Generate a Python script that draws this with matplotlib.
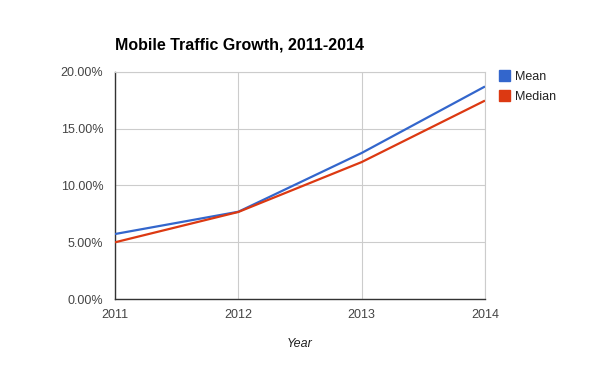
import matplotlib
matplotlib.use("Agg")
import matplotlib.pyplot as plt
from matplotlib.patches import Patch
from matplotlib.ticker import FuncFormatter

years = [2011, 2012, 2013, 2014]
mean_vals = [5.72, 7.68, 12.85, 18.7]
median_vals = [4.99, 7.66, 12.05, 17.46]
series_names = ["Mean", "Median"]
colors = ["#3366cc", "#dc3912"]
y_ticks = [0, 5, 10, 15, 20]

plt.rcParams['font.family'] = ['Liberation Sans', 'DejaVu Sans']

fig = plt.figure(figsize=(6, 3.71), dpi=100)
ax = fig.add_axes([0.1917, 0.194, 0.6166, 0.6127])

ax.plot(years, mean_vals, color=colors[0], linewidth=1.6, solid_capstyle='butt', zorder=3)
ax.plot(years, median_vals, color=colors[1], linewidth=1.6, solid_capstyle='butt', zorder=3)

ax.set_xlim(2011, 2014)
ax.set_ylim(0, 20)
ax.set_xticks(years)
ax.set_yticks(y_ticks)
ax.yaxis.set_major_formatter(FuncFormatter(lambda v, p: "%.2f%%" % v))
ax.grid(True, color="#cccccc", linewidth=0.8, zorder=0)
ax.tick_params(length=0, labelsize=9, colors="#444444")
ax.tick_params(axis='y', pad=8.5)
ax.tick_params(axis='x', pad=7.5)

for s in ["top", "right"]:
    ax.spines[s].set_color("#cccccc")
    ax.spines[s].set_linewidth(0.8)
for s in ["left", "bottom"]:
    ax.spines[s].set_color("#333333")
    ax.spines[s].set_linewidth(1.0)

ax.set_xlabel("Year", fontsize=9, style="italic", color="#222222", labelpad=12)

fig.text(0.192, 0.878, "Mobile Traffic Growth, 2011-2014", fontsize=11.5,
         fontweight="bold", color="#000000", va="center", ha="left")

handles = [Patch(facecolor=c, edgecolor=c) for c in colors]
leg = fig.legend(handles, series_names, loc="upper left", bbox_to_anchor=(0.831, 0.81),
                 frameon=False, fontsize=9, handlelength=0.9, handleheight=0.9,
                 handletextpad=0.45, labelspacing=0.6, borderaxespad=0, borderpad=0)
for t in leg.get_texts():
    t.set_color("#222222")

plt.savefig("out.png", dpi=100)
plt.close()
